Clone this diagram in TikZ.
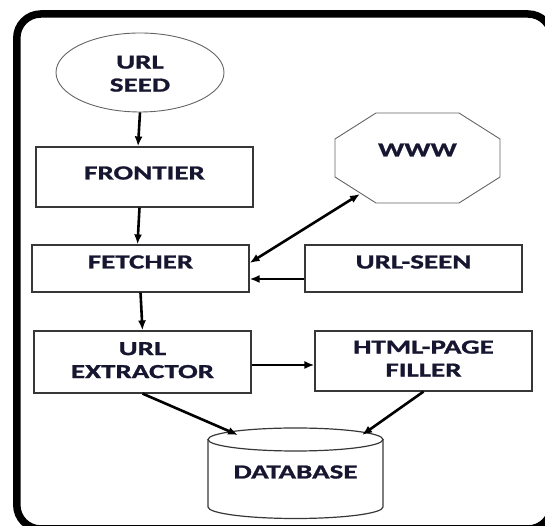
\documentclass[tikz,border=0pt]{standalone}
\usepackage{fontspec}
\setmainfont{Carlito}[FakeStretch=1.45, FakeBold=1.2]
\usetikzlibrary{arrows.meta,calc,shapes.geometric}
\definecolor{ink}{RGB}{22,22,48}
\definecolor{edge}{RGB}{55,55,55}
\definecolor{softedge}{RGB}{100,100,100}
% raise node text without changing its box
\newcommand\liftby[2]{\raisebox{#1}[\height][\depth]{#2}}
\newcommand\twolines[2]{\begin{tabular}{@{}c@{}}#1\\#2\end{tabular}}
\begin{document}
\begin{tikzpicture}[x=1pt,y=1pt,
  label/.style={font=\fontsize{20}{23}\selectfont\bfseries, text=ink},
  stage/.style={label, draw=edge, line width=1.2pt, rectangle, inner sep=0pt,
    minimum width=217pt},
  flow/.style={line width=2.6pt, -{Latex[length=10pt,width=8pt]}},
  twoway/.style={line width=2.6pt, {Latex[length=10pt,width=8pt]}-{Latex[length=10pt,width=8pt]}}
]
\useasboundingbox (0,0) rectangle (545,526);

% outer frame
\draw[line width=7.5pt, rounded corners=24pt] (16.8,512) rectangle (552,-3);

% seed and processing stages
\node[label, ellipse, draw=softedge, line width=0.9pt, inner sep=0pt,
  minimum width=168pt, minimum height=79pt] (seed) at (140,453.5)
  {\liftby{-3pt}{\twolines{URL}{SEED}}};
\node[stage, minimum height=60pt] (frontier) at (144.5,349) {\liftby{4pt}{FRONTIER}};
\node[stage, minimum height=47pt] (fetcher) at (140.5,257.5) {\liftby{6.5pt}{FETCHER}};
\node[stage, minimum height=47pt] (seen) at (413.5,257.5) {\liftby{6.5pt}{URL-SEEN}};
\node[stage, minimum height=62pt] (urlext) at (142.5,164) {\twolines{URL}{EXTRACTOR}};
\node[stage, minimum height=60pt] (html) at (423.5,165) {\liftby{0.5pt}{\twolines{HTML-PAGE}{FILLER}}};

% the web, an octagon
\node[label, inner sep=0pt, minimum width=165pt, minimum height=90pt] (www) at (417.5,368)
  {\liftby{8pt}{WWW}};
\draw[softedge, line width=0.9pt]
  ($(www.center)+(-41.5,45)$) -- ($(www.center)+(41.5,45)$)
  -- ($(www.center)+(82.5,19)$) -- ($(www.center)+(82.5,-19)$)
  -- ($(www.center)+(41.5,-45)$) -- ($(www.center)+(-41.5,-45)$)
  -- ($(www.center)+(-82.5,-19)$) -- ($(www.center)+(-82.5,19)$) -- cycle;
\coordinate (wwwport) at ($(www.center)+(-57.5,-36)$);

% database cylinder
\node[label, inner sep=0pt, minimum width=175pt, minimum height=90pt] (db) at (295.5,53)
  {\liftby{1pt}{DATABASE}};
\draw[edge, line width=1.2pt] ($(db.center)+(0,33.5)$) ellipse [x radius=87.5, y radius=11.5];
\draw[edge, line width=1.2pt] ($(db.center)+(-87.5,33.5)$) -- ($(db.center)+(-87.5,-34)$)
  arc[start angle=180, end angle=360, x radius=87.5, y radius=11.5]
  -- ($(db.center)+(87.5,33.5)$);
\coordinate (dbleft) at ($(db.center)+(-57.5,38)$);
\coordinate (dbright) at ($(db.center)+(66.5,38)$);

% connectors
\draw[flow] (seed.south) -- ([xshift=-6.5pt]frontier.north);
\draw[flow] ([xshift=-5pt]frontier.south) -- ([xshift=-3pt]fetcher.north);
\draw[flow] (fetcher.south) -- (urlext.north);
\draw[flow] ([yshift=-10.5pt]seen.west) -- ([yshift=-10.5pt]fetcher.east);
\draw[twoway] ([yshift=5.5pt]fetcher.east) -- (wwwport);
\draw[flow] ([yshift=-3pt]urlext.east) -- ([yshift=-4pt]html.west);
\draw[flow] (urlext.south) -- (dbleft);
\draw[flow] (html.south) -- (dbright);
\end{tikzpicture}
\end{document}
